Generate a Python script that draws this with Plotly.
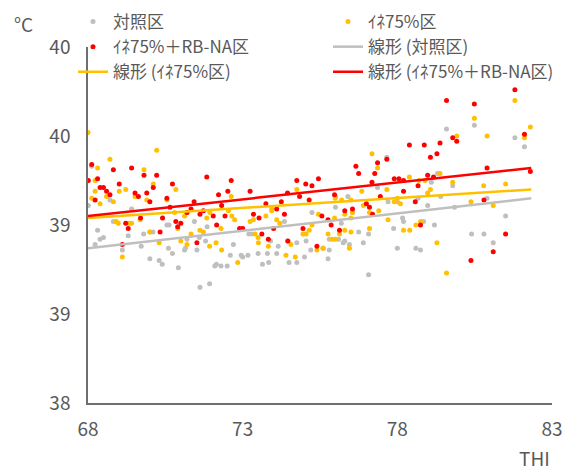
import plotly.graph_objects as go

# ---- data ----
ctrl_x = [68.12, 68.71, 68.01, 68.82, 69.41, 68.31, 68.39, 68.5, 68.23, 69.11, 69.30, 69.72, 69.8, 70.0, 70.1,
          70.0, 70.3, 70.4,
          70.55, 70.62, 71.44, 71.85, 71.6, 71.2, 71.12, 71.15, 70.73, 70.6, 71.52, 71.8, 72.6, 72.15, 72.1,
          72.3, 72.5, 73.0, 72.95, 70.92, 71.62, 71.93, 72.7,
          74.35, 75.24, 73.2, 73.3, 74.46, 73.9, 74.15, 74.75, 75.05, 75.2, 75.6, 73.17, 73.5, 73.8, 74.1, 75.0,
          73.64, 73.84, 74.5, 74.75,
          77.66, 77.36, 76.0, 76.4, 76.0, 76.55, 77.7, 78.0, 76.19, 76.75, 77.07, 77.88, 78.17, 75.8, 76.1, 76.3,
          76.25, 76.45, 76.9, 78.0, 75.6, 75.8, 75.76, 77.07,
          79.59, 80.49, 79.3, 79.1, 79.79, 78.67, 79.4, 78.98, 79.85, 78.2, 78.85, 79.2, 80.4, 80.8, 78.6, 78.75,
          81.8, 82.11, 80.9, 81.5, 81.1]
ctrl_y = [39.33, 39.14, 39.11, 39.02, 39.09, 38.97, 38.92, 38.93, 38.89, 38.86, 38.94, 38.88, 38.95, 38.96, 38.96,
          38.81, 38.80, 38.78,
          39.00, 39.00, 39.02, 38.99, 38.93, 38.92, 38.86, 38.87, 38.84, 38.87, 38.86, 38.91, 38.83, 38.78, 38.77,
          38.77, 38.77, 38.82, 38.83, 38.76, 38.65, 38.67, 38.89,
          39.02, 39.07, 38.95, 38.95, 38.91, 38.91, 38.88, 38.90, 38.91, 38.86, 38.87, 38.83, 38.84, 38.84, 38.84, 38.82,
          38.78, 38.79, 38.79, 38.79,
          39.38, 39.21, 39.16, 39.16, 39.10, 39.07, 39.13, 39.13, 39.01, 38.96, 38.95, 38.98, 39.04, 38.92, 38.92, 38.91,
          38.90, 38.89, 38.90, 38.87, 38.87, 38.86, 38.81, 38.72,
          39.54, 39.56, 39.29, 39.24, 39.22, 39.15, 39.16, 39.11, 39.10, 39.02, 39.02, 39.00, 38.95, 38.95, 38.87, 38.86,
          39.49, 39.44, 39.15, 39.05, 38.90]

ine_x = [68.0, 70.22, 68.71, 68.31, 69.81, 68.23, 70.11, 69.22, 69.01, 68.23, 68.6, 69.52, 69.9, 68.12, 68.39, 68.82,
         68.91, 68.98, 69.33, 69.41, 69.68, 69.11, 70.0, 70.3,
         70.84, 72.63, 70.55, 70.8, 71.2, 71.94, 72.54, 72.65, 71.12, 71.84, 70.9, 72.3, 72.74, 71.33, 71.62, 71.73,
         71.0, 71.2, 72.14, 71.93, 72.32, 72.84,
         74.75, 73.94, 73.94, 73.75, 73.24, 73.35, 74.1, 74.2, 75.45, 75.24, 74.95, 75.05, 75.15, 73.5, 73.4, 73.51,
         73.83, 74.56, 75.4, 74.4, 74.7,
         77.18, 77.36, 77.66, 76.85, 78.0, 75.99, 76.2, 76.5, 76.55, 76.9, 77.1, 76.3, 77.4, 77.9, 78.1, 75.97, 76.5,
         77.7, 75.76, 76.13, 76.3, 76.5, 77.1, 75.9, 76.0, 76.45, 78.4, 75.6,
         80.49, 79.92, 78.39, 79.38, 78.9, 78.7, 79.07, 79.79, 80.79, 78.98, 80.38, 78.2, 78.75, 78.6, 79.28, 79.59,
         81.8, 82.3, 82.11, 80.9, 81.5, 81.1]
ine_y = [39.52, 39.42, 39.37, 39.32, 39.31, 39.25, 39.23, 39.20, 39.19, 39.19, 39.16, 39.16, 39.14, 39.15, 39.12, 39.13,
         39.02, 39.01, 39.01, 39.01, 39.03, 38.82, 38.96, 38.90,
         39.20, 39.16, 39.14, 39.07, 39.07, 39.07, 39.08, 39.05, 39.05, 39.04, 38.98, 38.98, 39.03, 38.95, 38.97, 38.96,
         38.91, 38.89, 38.90, 38.88, 38.86, 38.79,
         39.20, 39.09, 39.08, 39.05, 39.02, 39.03, 39.03, 39.01, 39.06, 39.00, 38.95, 38.95, 38.97, 38.93, 38.95, 38.90,
         38.88, 38.89, 38.86, 38.83, 38.82,
         39.40, 39.32, 39.20, 39.19, 39.15, 39.15, 39.14, 39.14, 39.07, 39.11, 39.07, 39.06, 39.08, 39.13, 39.12, 39.04, 39.04,
         39.03, 38.95, 38.95, 38.97, 38.96, 38.98, 38.92, 38.92, 38.87, 38.97, 38.87,
         39.60, 39.50, 39.27, 39.29, 39.25, 39.25, 39.20, 39.24, 39.22, 39.18, 39.13, 38.97, 39.02, 39.00, 38.90, 38.73,
         39.70, 39.55, 39.49, 39.50, 39.23, 39.11]

rb_x = [68.12, 68.82, 69.41, 69.81, 70.22, 68.31, 68.01, 69.01, 70.11, 68.39, 68.5, 68.6, 68.71, 69.52, 69.63, 69.9,
        70.0, 68.23, 69.22, 69.30, 69.70, 69.11, 70.33, 70.41,
        71.84, 70.73, 72.63, 72.22, 72.52, 70.55, 71.43, 72.32, 70.65, 71.2, 71.33, 71.62, 71.73, 72.05, 72.43, 70.84,
        71.0, 70.9, 72.16, 72.9, 73.0, 71.52,
        74.75, 75.04, 75.24, 75.45, 73.24, 74.84, 75.15, 74.45, 73.75, 74.25, 74.1, 74.35, 73.35, 73.53, 75.56, 74.0,
        74.95, 73.62, 73.83, 74.46, 75.4,
        77.66, 76.66, 77.36, 76.75, 77.27, 77.18, 77.9, 78.05, 78.2, 75.97, 77.45, 78.2, 76.55, 77.0, 77.1, 77.2, 76.3,
        75.76, 75.86, 76.13,
        79.59, 80.49, 79.79, 79.92, 78.39, 78.87, 79.38, 79.28, 79.07, 78.98, 79.17, 78.67, 78.58, 80.8, 78.75, 80.38,
        81.8, 82.11, 80.9, 82.3, 81.5, 81.1]
rb_y = [39.34, 39.31, 39.32, 39.28, 39.28, 39.26, 39.25, 39.23, 39.21, 39.21, 39.21, 39.19, 39.17, 39.18, 39.16, 39.18,
        39.13, 39.14, 39.01, 38.98, 39.04, 38.89, 38.96, 39.04,
        39.27, 39.23, 39.25, 39.17, 39.19, 39.15, 39.13, 39.11, 39.10, 39.07, 39.09, 39.06, 39.08, 39.05, 39.05, 39.02,
        39.01, 38.99, 39.00, 38.98, 38.98, 38.90,
        39.25, 39.23, 39.22, 39.26, 39.19, 39.16, 39.14, 39.18, 39.12, 39.13, 39.09, 39.06, 39.06, 39.04, 39.05, 38.98,
        38.98, 38.95, 38.92, 38.91, 38.88,
        39.37, 39.33, 39.35, 39.29, 39.29, 39.24, 39.26, 39.26, 39.25, 39.17, 39.16, 39.19, 39.09, 39.12, 39.10, 39.06, 39.08,
        39.03, 39.00, 38.97,
        39.70, 39.68, 39.49, 39.47, 39.45, 39.45, 39.46, 39.40, 39.38, 39.28, 39.27, 39.22, 39.13, 39.14, 39.00, 38.80,
        39.76, 39.51, 39.32, 39.30, 38.95, 38.85]

# linear trend lines (end points)
trend_x = [68.0, 82.33]
ctrl_trend_y = [38.87, 39.15]
ine_trend_y = [39.04, 39.20]
rb_trend_y = [39.05, 39.32]

names = ["対照区", "ｲﾈ75%区", "ｲﾈ75%＋RB-NA区",
         "線形 (対照区)", "線形 (ｲﾈ75%区)", "線形 (ｲﾈ75%＋RB-NA区)"]
colors = ["#BFBFBF", "#FFC000", "#FF0000"]

y_tickvals = [38, 38.5, 39, 39.5, 40]
y_ticktext = ["38", "39", "39", "40", "40"]
x_tickvals = [68, 73, 78, 83]

FONT = "Noto Sans CJK JP"
TXT = "#595959"

fig = go.Figure()
for xs, ys, nm, c in [(ctrl_x, ctrl_y, names[0], colors[0]),
                      (ine_x, ine_y, names[1], colors[1]),
                      (rb_x, rb_y, names[2], colors[2])]:
    fig.add_trace(go.Scatter(x=xs, y=ys, mode="markers", name=nm,
                             marker=dict(color=c, size=5, line=dict(width=0))))
for ys, nm, c in [(ctrl_trend_y, names[3], colors[0]),
                  (ine_trend_y, names[4], colors[1]),
                  (rb_trend_y, names[5], colors[2])]:
    fig.add_trace(go.Scatter(x=trend_x, y=ys, mode="lines", name=nm,
                             line=dict(color=c, width=2.5)))

# plot area: x 88..552, y 47..403 (pixels)
fig.update_layout(
    width=570, height=470,
    margin=dict(l=88, r=18, t=47, b=67, autoexpand=False),
    plot_bgcolor="white", paper_bgcolor="white",
    font=dict(family=FONT, color=TXT, size=19),
    showlegend=True,
    legend=dict(orientation="h", xref="paper", yref="paper",
                x=(73 - 88) / 464, y=(403 - 4) / 356, xanchor="left", yanchor="top",
                entrywidth=210, entrywidthmode="pixels",
                font=dict(family=FONT, size=17, color=TXT),
                bgcolor="rgba(0,0,0,0)", tracegroupgap=0),
    xaxis=dict(range=[68, 83], tickvals=x_tickvals, showgrid=False, zeroline=False,
               showline=True, linecolor="#6E6E6E", linewidth=1.5, ticks="",
               ticklabelstandoff=8, tickfont=dict(size=19, color=TXT)),
    yaxis=dict(range=[38, 40], tickvals=y_tickvals, ticktext=y_ticktext, showgrid=False,
               zeroline=False, showline=True, linecolor="#6E6E6E", linewidth=1.5, ticks="",
               ticklabelstandoff=12, tickfont=dict(size=19, color=TXT)),
    annotations=[
        dict(text="°C", xref="paper", yref="paper", x=-0.1638, y=1.1096, xanchor="left",
             yanchor="top", showarrow=False, font=dict(size=19, color=TXT, family=FONT)),
        dict(text="THI", xref="paper", yref="paper", x=1.0, y=(403 - 457) / 356, xanchor="right",
             yanchor="middle", showarrow=False, font=dict(size=19, color=TXT, family=FONT)),
    ],
)

fig.write_html("out.html")
